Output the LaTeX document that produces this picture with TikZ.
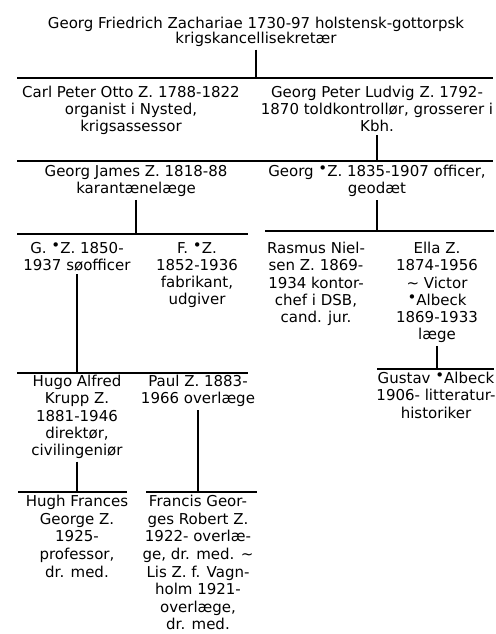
\documentclass[tikz,border=0pt]{standalone}
\usepackage{fontspec}
\setmainfont{DejaVu Sans}
\newcommand{\henv}{\raisebox{0.2em}{•}}

\begin{document}
\begin{tikzpicture}[
    x=1pt, y=-1pt,
    font=\fontsize{15}{17.2}\selectfont,
    % --- node styles ---
    person/.style ={align=center, inner sep=0pt, anchor=north},
    head/.style   ={person, font=\fontsize{15}{14.8}\selectfont},
    wide/.style   ={person, font=\fontsize{15}{17.6}\selectfont},
    % --- line styles ---
    bar/.style    ={line width=1.2pt},
    tie/.style    ={line width=1.2pt, shorten <=3pt},
]
\useasboundingbox (0,0) rectangle (495,634);

% =============== generation 1 ===============
\node[head] (zach) at (256,17)
      {Georg Friedrich Zachariae 1730-97 holstensk-gottorpsk\\ krigskancellisekretær};

% =============== generation 2 ===============
\node[person] (carl) at (131,86)
      {Carl Peter Otto Z. 1788-1822\\ organist i Nysted,\\ krigsassessor};
\node[person] (ludvig) at (377,86)
      {Georg Peter Ludvig Z. 1792-\\ 1870 toldkontrollør, grosserer i\\ Kbh.};

% =============== generation 3 ===============
\node[person] (james) at (136,165)
      {Georg James Z. 1818-88\\ karantænelæge};
\node[person] (georg) at (377,165)
      {Georg \henv Z. 1835-1907 officer,\\ geodæt};

% =============== generation 4 ===============
\node[person] (gz) at (77,242)
      {G. \henv Z. 1850-\\ 1937 søofficer};
\node[person] (fz) at (197,242)
      {F. \henv Z.\\ 1852-1936\\ fabrikant,\\ udgiver};
\node[person] (rasmus) at (316,242)
      {Rasmus Niel-\\ sen Z. 1869-\\ 1934 kontor-\\ chef i DSB,\\ cand. jur.};
\node[person] (ella) at (437,242)
      {Ella Z.\\ 1874-1956\\ \textasciitilde{} Victor\\ \henv Albeck\\ 1869-1933\\ læge};

% =============== generation 5 ===============
\node[person] (hugo) at (77,375)
      {Hugo Alfred\\ Krupp Z.\\ 1881-1946\\ direktør,\\ civilingeniør};
\node[person] (paul) at (198,375)
      {Paul Z. 1883-\\ 1966 overlæge};
\node[person] (gustav) at (436,372)
      {Gustav \henv Albeck\\ 1906- litteratur-\\ historiker};

% =============== generation 6 ===============
\node[wide] (hugh) at (77,495)
      {Hugh Frances\\ George Z.\\ 1925-\\ professor,\\ dr. med.};
\node[wide] (francis) at (198,495)
      {Francis Geor-\\ ges Robert Z.\\ 1922- overlæ-\\ ge, dr. med. \textasciitilde\\ Lis Z. f. Vagn-\\ holm 1921-\\ overlæge,\\ dr. med.};

% =============== sibling bars ===============
\coordinate (b1w) at (17,78);   \coordinate (b1e) at (493,78);
\coordinate (b2w) at (17,161);  \coordinate (b2e) at (493,161);
\coordinate (b3w) at (17,234);  \coordinate (b3e) at (248,234);
\coordinate (b4w) at (265,231); \coordinate (b4e) at (494,231);
\coordinate (b5w) at (17,373);  \coordinate (b5e) at (248,373);
\coordinate (b6w) at (377,369); \coordinate (b6e) at (494,369);
\coordinate (b7w) at (18,492);  \coordinate (b7e) at (127,492);
\coordinate (b8w) at (146,492); \coordinate (b8e) at (257,492);
\foreach \b in {1,...,8}
  \draw[bar] (b\b w) -- (b\b e);

% =============== descent lines ===============
\draw[tie] (zach.south)   -- (zach.south |- b1w);
\draw[tie] (ludvig.south) -- (ludvig.south |- b2w);
\draw[tie] (james.south)  -- (james.south |- b3w);
\draw[tie] (georg.south)  -- (georg.south |- b4w);
\draw[tie] (gz.south)     -- (gz.south |- b5w);
\draw[tie] (ella.south)   -- (ella.south |- b6w);
\draw[tie] (hugo.south)   -- (hugo.south |- b7w);
\draw[tie] (paul.south)   -- (paul.south |- b8w);

\end{tikzpicture}
\end{document}
